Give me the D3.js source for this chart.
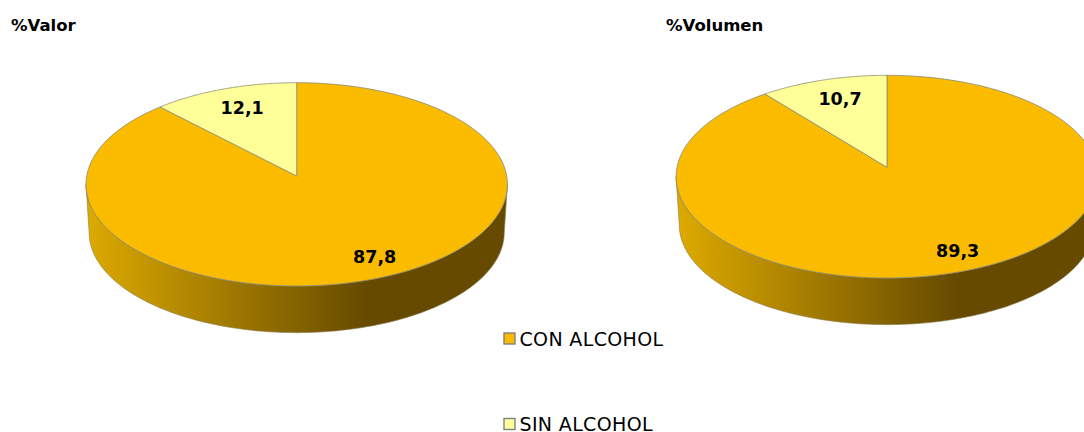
<!DOCTYPE html>
<html><head><meta charset="utf-8">
<script src="https://cdn.jsdelivr.net/npm/d3@7/dist/d3.min.js"></script>
<style>html,body{margin:0;padding:0;background:#fff}svg{display:block}text{font-family:"DejaVu Sans",Verdana,sans-serif}</style>
</head><body><svg id="c" width="1084" height="432"></svg>
<script>
const categories = ["CON ALCOHOL", "SIN ALCOHOL"];
const chartTitles = ["%Valor", "%Volumen"];
const valorValues = [87.8, 12.1];
const volumenValues = [89.3, 10.7];
const colors = ["#FBBC00", "#FFFF99"];

const fmt = v => String(v).replace(".", ",");
const W = 1084, H = 432;
const svg = d3.select("#c");
const defs = svg.append("defs");

const layouts = [
  {values: valorValues, cx: 296.7, cy: 176, top: 93.3, bottom: 110, titleX: 11, labels: [[78, 81], [-54.5, -68]]},
  {values: volumenValues, cx: 887, cy: 167.3, top: 92, bottom: 110.7, titleX: 666, labels: [[70.7, 83.4], [-47, -68.3]]}
];
const RX = 210, DEPTH = 48.3, SHRINK = 0.985;

layouts.forEach((L, i) => {
  const k = (L.bottom - L.top) / (L.bottom + L.top);
  const a = L.top * (1 + k);
  // perspective projection of a point on the pie disc
  const proj = (theta, r = 1, lower = false) => {
    const u = r * Math.sin(theta), v = r * Math.cos(theta), w = 1 + k * v;
    const s = lower ? SHRINK : 1;
    return [L.cx + s * RX * u / w, L.cy + (lower ? DEPTH : 0) - s * a * v / w];
  };
  const line = d3.line();
  const arcPts = (t0, t1, lower) => d3.range(0, 121).map(j => proj(t0 + (t1 - t0) * j / 120, 1, lower));

  const g = svg.append("g");
  const gradId = "side" + i;
  const grad = defs.append("linearGradient").attr("id", gradId)
    .attr("gradientUnits", "userSpaceOnUse")
    .attr("x1", L.cx - RX).attr("x2", L.cx + 70).attr("y1", 0).attr("y2", 0);
  grad.append("stop").attr("offset", 0).attr("stop-color", "#DDAA00");
  grad.append("stop").attr("offset", 1).attr("stop-color", "#664A00");

  // side wall, between the front rim of the upper and lower discs
  const tR = Math.acos(-k), tL = 2 * Math.PI - tR;
  const sidePts = arcPts(tR, tL, false).concat(arcPts(tL, tR, true));
  g.append("path").attr("d", line(sidePts) + "Z")
    .attr("fill", `url(#${gradId})`).attr("stroke", "#8a7a50").attr("stroke-width", 0.6);

  const pie = d3.pie().sort(null).value(d => d);
  const arcs = pie(L.values);
  g.selectAll("path.slice").data(arcs).join("path").attr("class", "slice")
    .attr("d", d => line([proj(0, 0)].concat(arcPts(d.startAngle, d.endAngle, false))) + "Z")
    .attr("fill", (d, j) => colors[j])
    .attr("stroke", "#8c8c70").attr("stroke-width", 0.8).attr("stroke-linejoin", "round");

  g.selectAll("text.lab").data(arcs).join("text").attr("class", "lab")
    .attr("x", (d, j) => L.cx + L.labels[j][0])
    .attr("y", (d, j) => L.cy + L.labels[j][1])
    .attr("dy", "0.36em").attr("text-anchor", "middle")
    .attr("font-size", 17.5).attr("font-weight", "bold").attr("fill", "#000")
    .text(d => fmt(d.value));

  svg.append("text").attr("x", L.titleX).attr("y", 31)
    .attr("font-size", 16.5).attr("font-weight", "bold").attr("fill", "#000")
    .text(chartTitles[i]);
});

const legendY = d3.scalePoint().domain(categories).range([338.5, 424]);
const lg = svg.append("g").selectAll("g").data(categories).join("g")
  .attr("transform", d => `translate(0,${legendY(d)})`);
lg.append("rect").attr("x", 504).attr("y", -5.5).attr("width", 11).attr("height", 11)
  .attr("fill", (d, i) => colors[i]).attr("stroke", "#808080").attr("stroke-width", 1.4);
lg.append("text").attr("x", 519.5).attr("y", 0).attr("dy", "0.37em")
  .attr("font-size", 19).attr("letter-spacing", 0.35).attr("fill", "#000").text(d => d);
</script></body></html>
